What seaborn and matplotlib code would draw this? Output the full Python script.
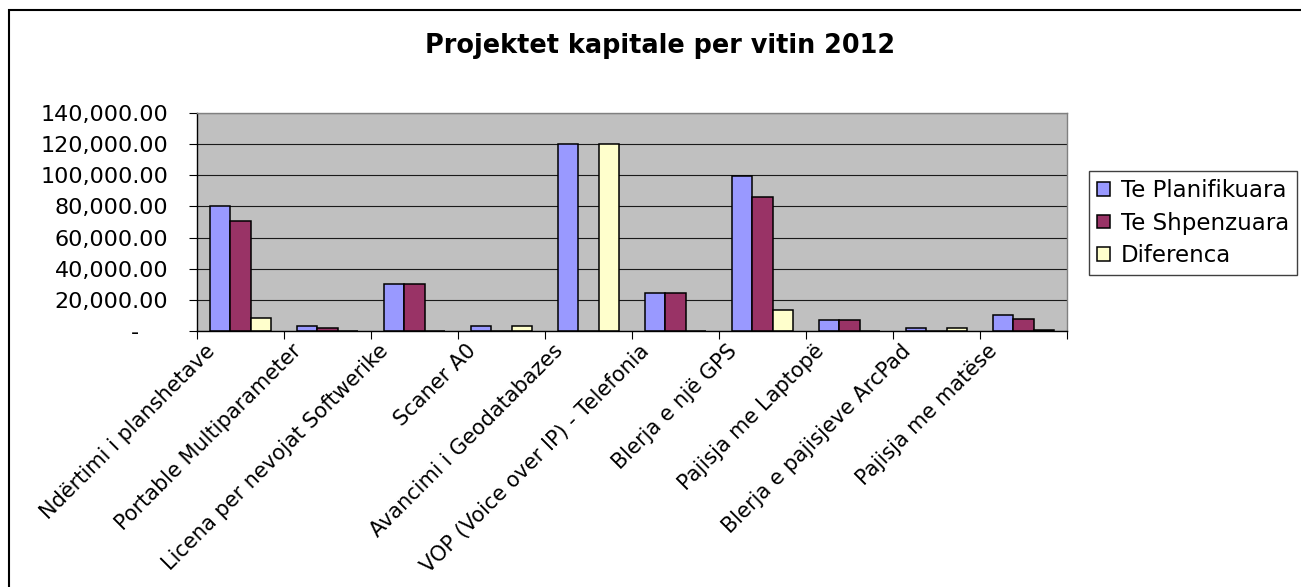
import numpy as np
import pandas as pd
import matplotlib
matplotlib.use("Agg")
import matplotlib.pyplot as plt
import seaborn as sns
from matplotlib.patches import Rectangle
from matplotlib.transforms import ScaledTranslation
from matplotlib.ticker import FuncFormatter

# ---- data ----
categories = [
    "Ndërtimi i planshetave",
    "Portable Multiparameter",
    "Licena per nevojat Softwerike",
    "Scaner A0",
    "Avancimi i Geodatabazes",
    "VOP (Voice over IP) - Telefonia",
    "Blerja e një GPS",
    "Pajisja me Laptopë",
    "Blerja e pajisjeve ArcPad",
    "Pajisja me matëse",
]
series_names = ["Te Planifikuara", "Te Shpenzuara", "Diferenca"]
planifikuara = [80000, 3200, 30000, 3000, 120000, 24500, 99500, 7000, 2100, 10300]
shpenzuara = [70800, 2100, 30000, 0, 0, 24500, 86200, 7000, 0, 7900]
diferenca = [8200, 0, 0, 3000, 120000, 0, 13300, 0, 2100, 900]
colors = ["#9999FF", "#993366", "#FFFFCC"]
title = "Projektet kapitale per vitin 2012"
y_ticks = [0, 20000, 40000, 60000, 80000, 100000, 120000, 140000]

df = pd.DataFrame({
    "Kategoria": categories * 3,
    "Seria": sum([[s] * len(categories) for s in series_names], []),
    "Vlera": planifikuara + shpenzuara + diferenca,
})

plt.rcParams["font.family"] = ["DejaVu Sans"]

W, H = 1301, 587
fig = plt.figure(figsize=(W / 100, H / 100), dpi=100)
fig.patch.set_facecolor("white")
ax = fig.add_axes([197 / W, (H - 331) / H, 870 / W, 218 / H])
ax.set_facecolor("#C0C0C0")

sns.barplot(data=df, x="Kategoria", y="Vlera", hue="Seria", order=categories,
            hue_order=series_names, palette=colors, saturation=1, width=0.69,
            edgecolor="black", linewidth=1.1, ax=ax)

handles, labels = ax.get_legend_handles_labels()
if ax.get_legend() is not None:
    ax.get_legend().remove()

ax.set_xlim(-0.5, len(categories) - 0.5)
ax.set_ylim(0, 140000)
ax.set_xlabel("")
ax.set_ylabel("")

# y axis
ax.set_yticks(y_ticks)
ax.yaxis.set_major_formatter(FuncFormatter(lambda v, p: "-    " if v == 0 else f"{v:,.2f}"))
ax.tick_params(axis="y", length=5.8, width=0.8, pad=15, labelsize=16, color="black")
ax.yaxis.grid(True, color="#1a1a1a", linewidth=0.8)
ax.xaxis.grid(False)
ax.set_axisbelow(True)

# x axis: ticks at boundaries, labels at centres
ax.set_xticks(np.arange(-0.5, len(categories), 1))
ax.set_xticklabels([])
ax.set_xticks(np.arange(len(categories)), minor=True)
ax.set_xticklabels(categories, minor=True, rotation=45, ha="right", va="top",
                   rotation_mode="anchor", fontsize=15)
ax.tick_params(axis="x", which="major", length=5.8, width=0.8, color="black")
ax.tick_params(axis="x", which="minor", length=0, pad=0)
off = ScaledTranslation(-0.36, -0.10, fig.dpi_scale_trans)
for lbl in ax.get_xticklabels(minor=True):
    lbl.set_transform(lbl.get_transform() + off)

for s in ["top", "right"]:
    ax.spines[s].set_color("#808080")
    ax.spines[s].set_linewidth(1.0)
for s in ["left", "bottom"]:
    ax.spines[s].set_color("black")
    ax.spines[s].set_linewidth(1.0)

# title
fig.text(660 / W, (H - 53) / H, title, ha="center", va="baseline",
         fontsize=18.4, fontweight="bold")

# legend
leg = fig.legend(handles, labels, loc="upper left",
                 bbox_to_anchor=(1089 / W, (H - 171) / H), bbox_transform=fig.transFigure,
                 frameon=True, fancybox=False, framealpha=1, edgecolor="#404040",
                 fontsize=16.5, handlelength=0.55, handleheight=0.55, handletextpad=0.5,
                 labelspacing=0.42, borderpad=0.35, borderaxespad=0)
leg.get_frame().set_linewidth(1.0)

# outer chart frame (open at right/bottom as in the reference)
fig.patches.append(Rectangle((8.5 / W, -0.1), 1.2, (H - 9.5) / H + 0.1,
                             transform=fig.transFigure, fill=False,
                             edgecolor="black", linewidth=1.5))

fig.savefig("out.png", dpi=100)
